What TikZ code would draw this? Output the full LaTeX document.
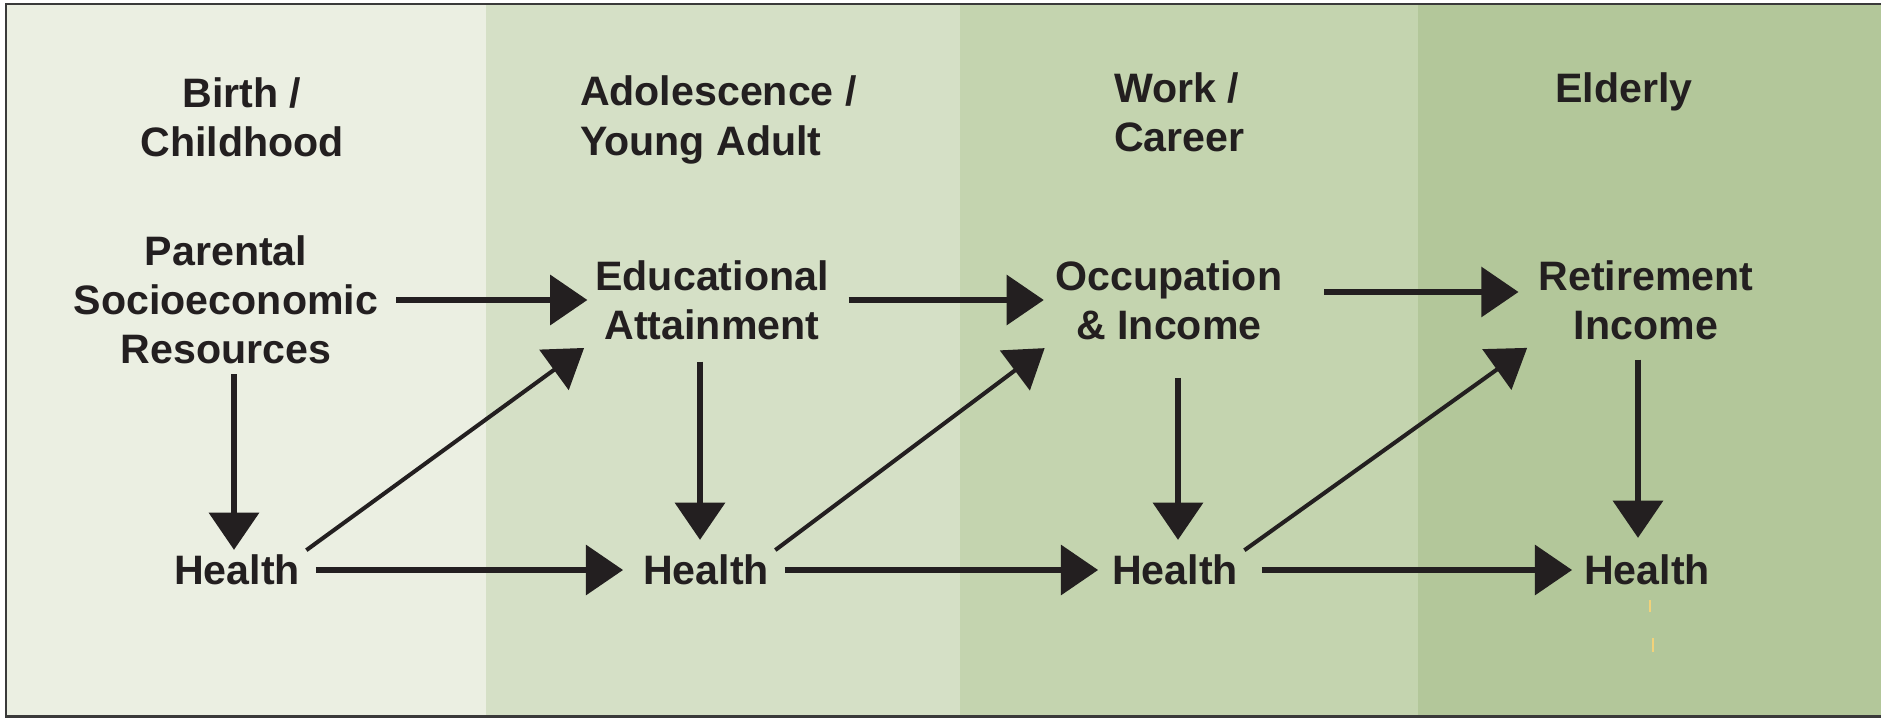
\documentclass[tikz,border=0pt]{standalone}
\usepackage{fontspec}
\setmainfont{Liberation Sans}
\usetikzlibrary{arrows.meta}
\definecolor{ink}{HTML}{231F20}
\definecolor{frame}{HTML}{3A3A3A}
\definecolor{bandA}{HTML}{EBEFE2}
\definecolor{bandB}{HTML}{D5E0C6}
\definecolor{bandC}{HTML}{C4D4AF}
\definecolor{bandD}{HTML}{B3C79A}
\definecolor{speck}{HTML}{F2D27A}
\begin{document}
\begin{tikzpicture}[x=0.01cm,y=-0.01cm,
		lbl/.style={inner sep=0pt,outer sep=0pt,text=ink,align=center,
			font=\fontsize{11.7}{14}\selectfont\bfseries},
		arr/.style={-{Triangle[length=10.6pt,width=14pt]},line width=1.75pt,draw=ink},
		diag/.style={arr,line width=1.15pt}]
	\useasboundingbox (0,0) rectangle (1881,721);
	\fill[white] (0,0) rectangle (1881,721);
	% life stages
	\fill[bandA] (6,4) rectangle (486,716);
	\fill[bandB] (486,4) rectangle (960,716);
	\fill[bandC] (960,4) rectangle (1418,716);
	\fill[bandD] (1418,4) rectangle (1881,716);
	\draw[line width=0.85pt,draw=frame] (1881,4) -- (6,4) -- (6,716) -- (1881,716);
	\draw[speck,line width=0.5pt] (1650,600) -- (1650,612);
	\draw[speck,line width=0.5pt] (1653,638) -- (1653,652);

	\node[lbl] (birth) at (242,117) {Birth /\\Childhood};
	\node[lbl,align=left,anchor=west] (adol) at (580,120) {Adolescence /\\Young Adult};
	\node[lbl,align=left,anchor=west] (work) at (1114,112) {Work /\\Career};
	\node[lbl] (eld) at (1624,92) {Elderly};

	\node[lbl] (par) at (226,300) {Parental\\Socioeconomic\\Resources};
	\node[lbl] (edu) at (712,300) {Educational\\Attainment};
	\node[lbl] (occ) at (1169,300) {Occupation\\\& Income};
	\node[lbl] (ret) at (1646,300) {Retirement\\Income};

	\node[lbl] (h1) at (237,570) {Health};
	\node[lbl] (h2) at (706,570) {Health};
	\node[lbl] (h3) at (1175,570) {Health};
	\node[lbl] (h4) at (1647,570) {Health};

	% top row
	\draw[arr,shorten <=0.18cm,shorten >=0.08cm] (par.east) -- (edu.west);
	\draw[arr,shorten <=0.2cm,shorten >=0.12cm] (edu.east) -- (occ.west);
	\draw[arr,shorten <=0.42cm,shorten >=0.2cm] ([yshift=0.08cm]occ.east) -- ([yshift=0.08cm]ret.west);
	% health row
	\draw[arr,shorten <=0.16cm,shorten >=0.2cm] (h1) -- (h2);
	\draw[arr,shorten <=0.16cm,shorten >=0.14cm] (h2) -- (h3);
	\draw[arr,shorten <=0.24cm,shorten >=0.12cm] (h3) -- (h4);
	% down
	\draw[arr,shorten <=0.1cm,shorten >=0.05cm] ([xshift=-0.03cm]par.south -| h1.north) -- ([xshift=-0.03cm]h1.north);
	\draw[arr,shorten <=0.22cm,shorten >=0.15cm] ([xshift=-0.06cm]edu.south -| h2.north) -- ([xshift=-0.06cm]h2.north);
	\draw[arr,shorten <=0.38cm,shorten >=0.15cm] ([xshift=0.03cm]occ.south -| h3.north) -- ([xshift=0.03cm]h3.north);
	\draw[arr,shorten <=0.2cm,shorten >=0.17cm] ([xshift=-0.09cm]ret.south -| h4.north) -- ([xshift=-0.09cm]h4.north);
	% up
	\draw[diag,shorten <=0.08cm,shorten >=0.14cm] (h1.north east) -- (edu.south west);
	\draw[diag,shorten <=0.08cm,shorten >=0.14cm] (h2.north east) -- (occ.south west);
	\draw[diag,shorten <=0.08cm,shorten >=0.14cm] (h3.north east) -- (ret.south west);
\end{tikzpicture}
\end{document}
